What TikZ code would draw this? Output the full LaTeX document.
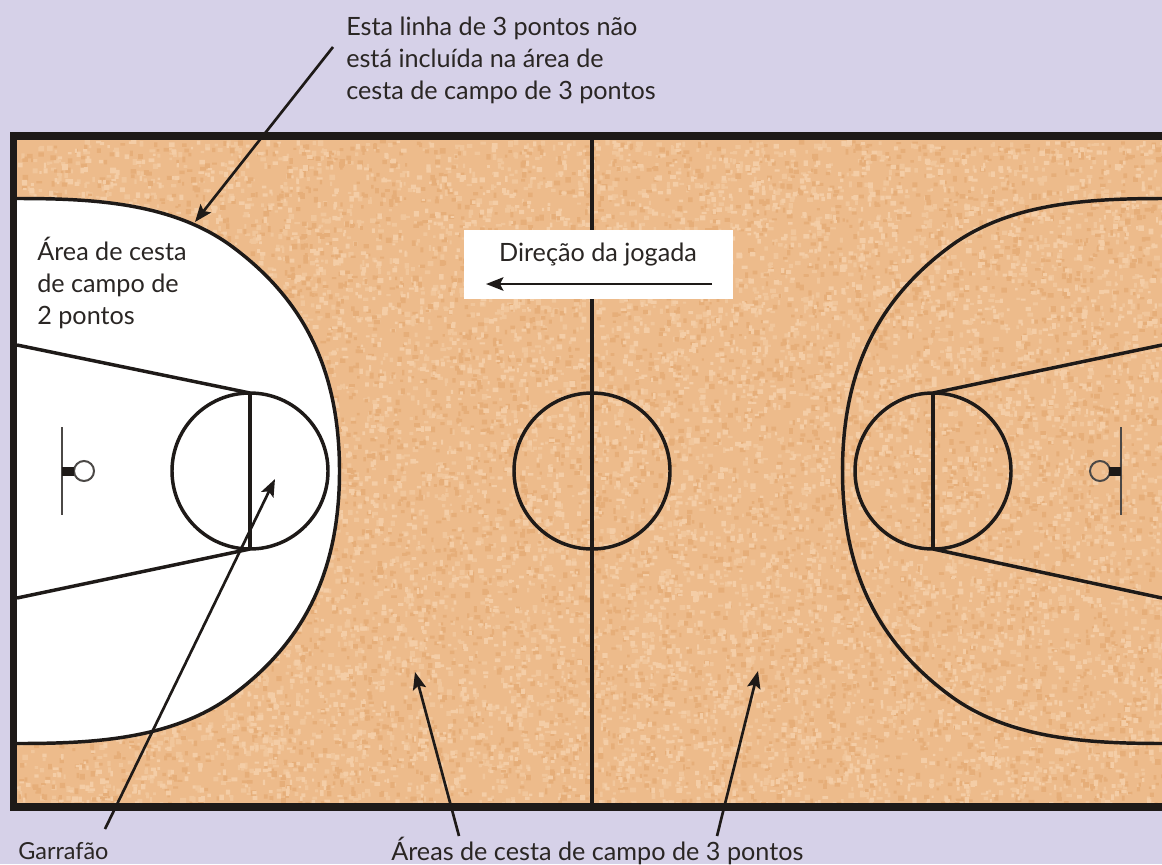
\documentclass[tikz,border=0pt]{standalone}
\usepackage{fontspec}
\setmainfont{Lato}
\usetikzlibrary{arrows.meta}
\definecolor{bgc}{HTML}{D6D1E8}
\definecolor{floorc}{HTML}{EDBB8B}
\definecolor{speckA}{HTML}{F4CDA6}
\definecolor{speckB}{HTML}{E6AE79}
\definecolor{speckC}{HTML}{F1C69B}
\definecolor{ink}{HTML}{1E1A18}
\definecolor{txt}{HTML}{2A2624}
\tikzset{
  courtline/.style={draw=ink,line width=2.6pt},
  thinline/.style={draw=ink!80,line width=1.5pt},
  callout/.style={draw=ink,line width=2pt,-{Stealth[length=13pt,width=10pt,inset=2.5pt]}},
  lbl/.style={text=txt,font=\fontsize{18.9pt}{24pt}\selectfont,inner sep=0pt,align=left},
  speckpath/.style={fill=#1,draw=none},
}
\newcommand{\speckles}[2]{%
  \foreach \j in {1,...,#2}{
    \fill[speckpath=#1] \foreach \i in {1,...,100}{
      ({17+rnd*1145},{140+rnd*663}) rectangle ++({2+rnd*4},{2+rnd*4})
    };
  }%
}
\begin{document}
\begin{tikzpicture}[x=0.75pt,y=-0.75pt]
\useasboundingbox (0,0) rectangle (1162,864);
\fill[bgc] (0,0) rectangle (1162,864);
\fill[floorc] (10,132) rectangle (1162,811);
\begin{scope}
\clip (17,140) rectangle (1162,803);
\pgfmathsetseed{4242}
\speckles{speckC}{60}
\speckles{speckB}{50}
\speckles{speckA}{50}
\end{scope}
% left white zone
\fill[white] (17,198.5) .. controls (90,198.5) and (170,202) .. (230,245) .. controls (300,296) and (339.5,365) .. (339.5,471) .. controls (339.5,577) and (300,646) .. (230,697) .. controls (170,740) and (90,743.5) .. (17,743.5) -- cycle;
\draw[courtline] (17,198.5) .. controls (90,198.5) and (170,202) .. (230,245) .. controls (300,296) and (339.5,365) .. (339.5,471) .. controls (339.5,577) and (300,646) .. (230,697) .. controls (170,740) and (90,743.5) .. (17,743.5);
% right arc
\draw[courtline] (1165,198.5) .. controls (1092,198.5) and (1012,202) .. (952,245) .. controls (882,296) and (842.5,365) .. (842.5,471) .. controls (842.5,577) and (882,646) .. (952,697) .. controls (1012,740) and (1092,743.5) .. (1165,743.5);
% border
\fill[ink] (10,132) rectangle (1162,140);
\fill[ink] (10,803) rectangle (1162,811);
\fill[ink] (10,132) rectangle (17,811);
% centre
\draw[courtline] (592,140) -- (592,803);
\draw[courtline] (592,471) circle[radius=78];
% left key
\draw[courtline] (17,345) -- (250,393);
\draw[courtline] (17,598) -- (250,549);
\draw[courtline] (250,393) -- (250,549);
\draw[courtline] (250,471) circle[radius=78];
% right key
\draw[courtline] (1162,345) -- (933,393);
\draw[courtline] (1162,598) -- (933,549);
\draw[courtline] (933,393) -- (933,549);
\draw[courtline] (933,471) circle[radius=78];
% hoops
\draw[thinline] (62,427) -- (62,515);
\draw[thinline] (84,471) circle[radius=10];
\fill[ink] (62,466.5) rectangle (74,476);
\draw[thinline] (1121,427) -- (1121,515);
\draw[thinline] (1100,471) circle[radius=10];
\fill[ink] (1109,466.5) rectangle (1121,476);
% direction box
\fill[white] (464,230) rectangle (733,299);
\node[lbl,anchor=center] (dir) at (598,255) {Direção da jogada};
\coordinate (dirS) at (712,284);
\coordinate (dirE) at (486,284);
\draw[callout] (dirS) -- (dirE);
% labels
\node[lbl,anchor=north west] (top) at (346,17) {Esta linha de 3 pontos não\\está incluída na área de\\cesta de campo de 3 pontos};
\node[lbl,anchor=north west] (two) at (37,237) {Área de cesta\\de campo de\\2 pontos};
\node[lbl,anchor=west,font=\fontsize{17.6pt}{24pt}\selectfont] (gar) at (18,851) {Garrafão};
\node[lbl,anchor=west] (tres) at (391,851) {Áreas de cesta de campo de 3 pontos};
% callouts
\coordinate (a1s) at (333,47); \coordinate (a1e) at (195,222);
\coordinate (a2s) at (105,829); \coordinate (a2e) at (275,479);
\coordinate (a3s) at (459,836); \coordinate (a3e) at (415,672);
\coordinate (a4s) at (717,836); \coordinate (a4e) at (758,671);
\draw[callout] (a1s) -- (a1e);
\draw[callout] (a2s) -- (a2e);
\draw[callout] (a3s) -- (a3e);
\draw[callout] (a4s) -- (a4e);
\end{tikzpicture}
\end{document}
